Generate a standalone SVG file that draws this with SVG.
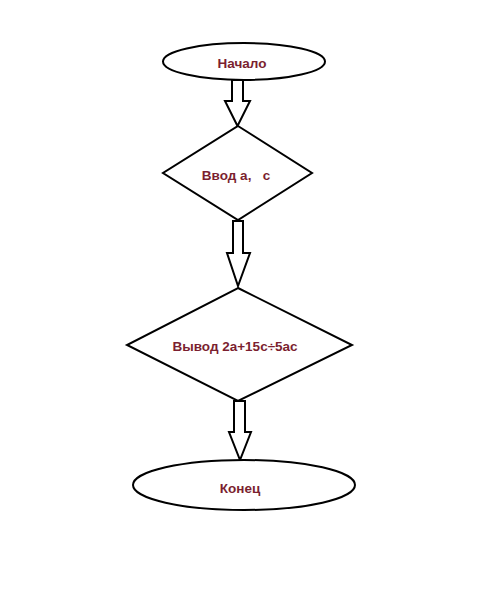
<svg xmlns="http://www.w3.org/2000/svg" width="500" height="605" viewBox="0 0 500 605">
<style>
.shape{fill:#fff;stroke:#000;stroke-width:2}
.arrow{fill:#fff;stroke:#000;stroke-width:2;stroke-linejoin:miter}
.lbl{font-family:"Liberation Sans",Arial,sans-serif;font-weight:bold;font-size:13.5px;fill:#7b1f30;text-anchor:middle;dominant-baseline:central}
</style>
<rect width="500" height="605" fill="#fff"/>
<g id="connectors">
<polygon class="arrow" points="232,80 243,80 243,101 250,101 237.5,126 225,101 232,101"/>
<polygon class="arrow" points="233,221 243,221 243,253 250,253 238,286 227,253 233,253"/>
<polygon class="arrow" points="234,401 245,401 245,432 251,432 240,460 229,432 234,432"/>
</g>
<g id="start">
<ellipse class="shape" cx="244" cy="61.5" rx="81" ry="18.5"/>
<text class="lbl" x="242" y="63">Начало</text>
</g>
<g id="input">
<polygon class="shape" points="238,126 312,173 238,220 163,173"/>
<text class="lbl" x="236" y="175" xml:space="preserve">Ввод а,   с</text>
</g>
<g id="output">
<polygon class="shape" points="238,288 352,345 238,401 127,345"/>
<text class="lbl" x="235" y="346">Вывод 2a+15c÷5ac</text>
</g>
<g id="end">
<ellipse class="shape" cx="244" cy="485" rx="111" ry="25"/>
<text class="lbl" x="240" y="488">Конец</text>
</g>
</svg>
